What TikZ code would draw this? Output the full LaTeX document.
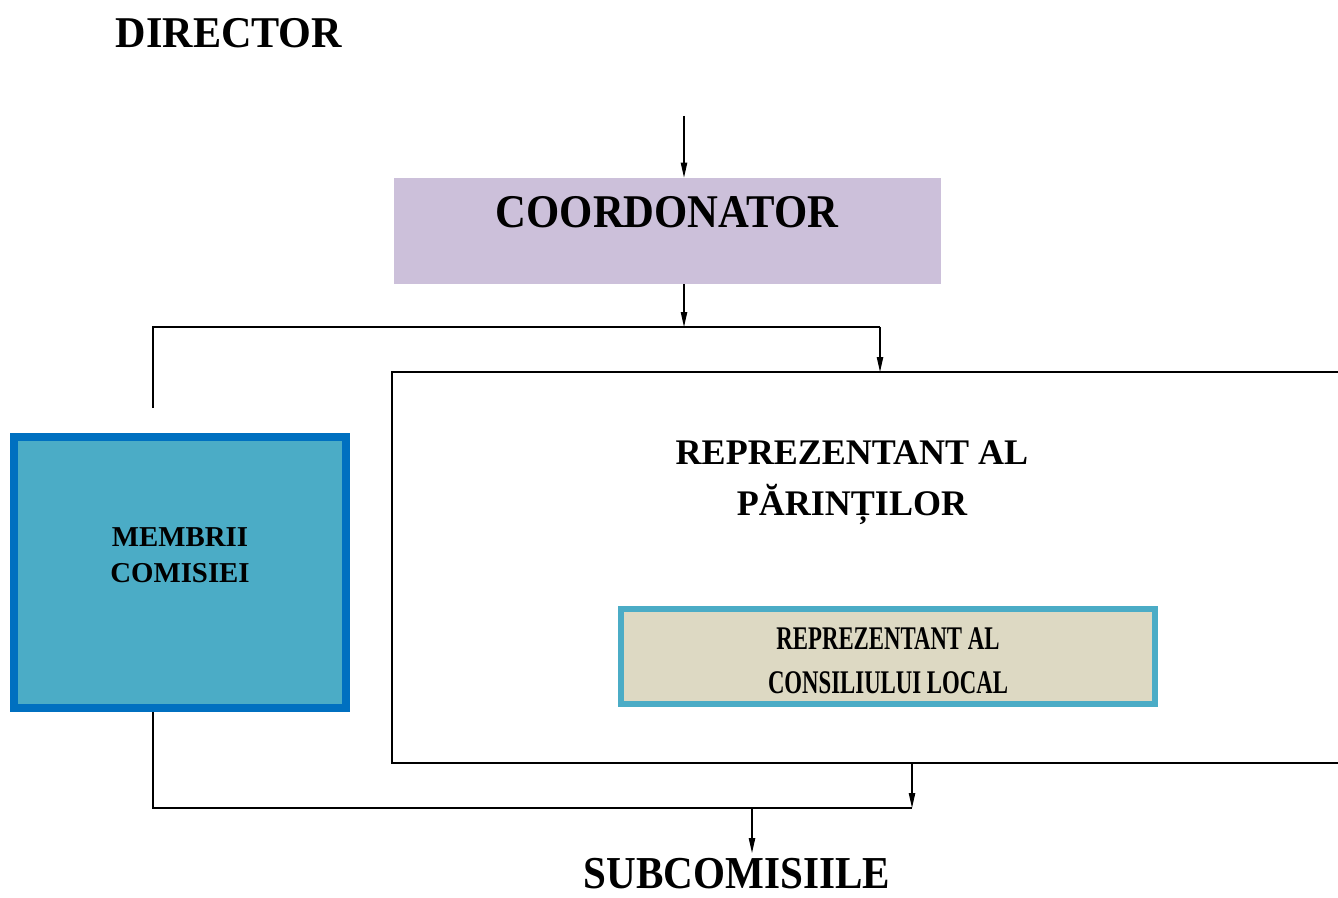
\documentclass[tikz,border=0pt]{standalone}
\usepackage{fontspec}
\setmainfont{Liberation Serif}
\newfontfamily\dirfont{Liberation Serif}[FakeStretch=0.96]
\newfontfamily\coordfont{Liberation Serif}[FakeStretch=0.91]
\newfontfamily\subfont{Liberation Serif}[FakeStretch=0.9]
\newfontfamily\condfont{Liberation Serif}[FakeStretch=0.69]
\usetikzlibrary{arrows.meta,positioning,calc}

\definecolor{coordfill}{HTML}{CCC0DA}
\definecolor{membfill}{HTML}{4BACC6}
\definecolor{membline}{HTML}{0070C0}
\definecolor{localfill}{HTML}{DDD9C3}
\definecolor{localline}{HTML}{4BACC6}

\begin{document}
\begin{tikzpicture}[x=0.02cm, y=-0.02cm, >={Triangle[length=8.5pt,width=3.6pt]},
    link/.style={line width=1pt},
    arr/.style={->, line width=0.7pt},
    frame/.style={line width=1.1pt},
    title/.style={font=\bfseries, inner sep=0pt, align=center}]
      \useasboundingbox (0,0) rectangle (1338,898);

      % Boxes
      \node[fill=coordfill, minimum width=10.94cm, minimum height=2.12cm, inner sep=0pt]
        (coord) at (667.5,231) {};
      \node[fill=membfill, draw=membline, line width=4.5pt, minimum width=6.64cm,
        minimum height=5.42cm, inner sep=0pt] (membrii) at (180,572.5) {};
      \node[fill=localfill, draw=localline, line width=3.4pt, minimum width=10.68cm,
        minimum height=1.9cm, inner sep=0pt] (local) at (888,656.5) {};
      \node[title, font=\condfont\bfseries\fontsize{18.8}{25}\selectfont] (localtext)
        at (888,661) {REPREZENTANT AL\\CONSILIULUI LOCAL};

      % Open frame of the parents' box
      \coordinate (frameNW) at (392,372);
      \coordinate (frameSW) at (392,763);
      \draw[frame] (frameNW -| 1345,0) -- (frameNW) -- (frameSW) -- (frameSW -| 1345,0);

      % Texts
      \node[title, font=\dirfont\bfseries\fontsize{25}{30}\selectfont] (director) at (229,33) {DIRECTOR};
      \node[title, font=\coordfont\bfseries\fontsize{26.7}{32}\selectfont] (coordtext) at (667,212) {COORDONATOR};
      \node[title, font=\bfseries\fontsize{20.5}{29}\selectfont] (parinti) at (852,483)
        {REPREZENTANT AL\\PĂRINȚILOR};
      \node[title, font=\bfseries\fontsize{16.4}{20.5}\selectfont] (membtext) at (180,555)
        {MEMBRII\\COMISIEI};
      \node[title, font=\subfont\bfseries\fontsize{26}{32}\selectfont] (subcom) at (737,874) {SUBCOMISIILE};

      % Connectors, top
      \coordinate (intop) at (684,116);
      \coordinate (split) at (684,327);
      \coordinate (leftend) at (153,408);
      \coordinate (rightdrop) at (880,327);
      \draw[arr] (intop) -- (intop |- coord.north);
      \draw[arr] (coord.south -| split) -- (split);
      \draw[link] (leftend) -- (leftend |- split) -- (rightdrop);
      \draw[arr] (rightdrop) -- (rightdrop |- frameNW);

      % Connectors, bottom
      \coordinate (join) at (912,808);
      \coordinate (down) at (752,808);
      \draw[link] (membrii.south -| leftend) -- (leftend |- join) -- (join);
      \draw[arr] (join |- frameSW) -- (join);
      \draw[arr] (down) -- ([yshift=3pt]subcom.north -| down);
    \end{tikzpicture}
\end{document}
